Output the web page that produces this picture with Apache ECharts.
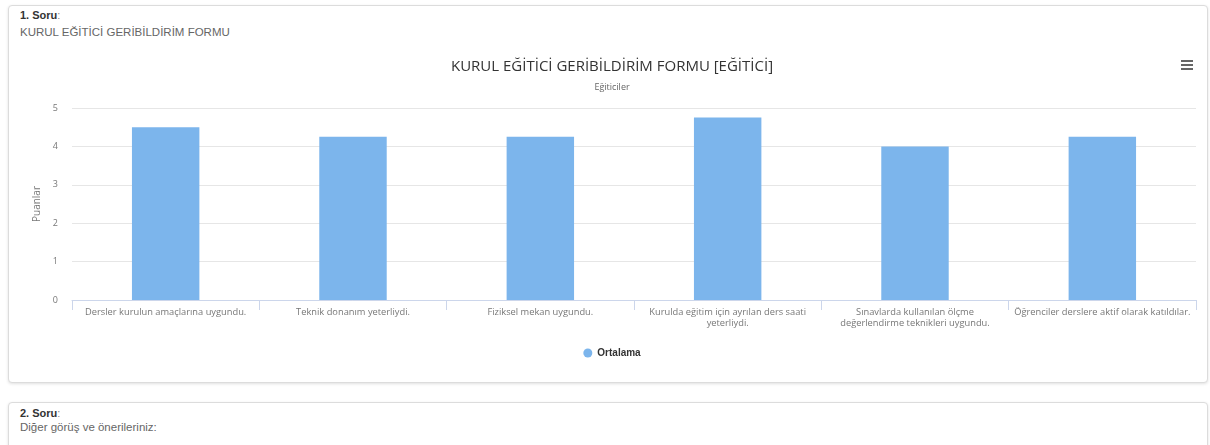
<!DOCTYPE html>
<html>
<head>
<meta charset="utf-8">
<script src="https://cdn.jsdelivr.net/npm/echarts@6/dist/echarts.min.js"></script>
<style>
  html, body { margin:0; padding:0; width:1210px; height:445px; overflow:hidden; background:#ffffff; font-family: "Liberation Sans", Arial, sans-serif; }
  .card { position:absolute; left:8px; width:1198px; border:1px solid #dcdcdc; border-radius:4px; box-shadow:0 1px 3px rgba(0,0,0,0.12); background:#fff; }
  .q { position:absolute; left:20px; font-size:11px; color:#333; }
  .q b { font-weight:bold; }
  .q span { color:#888; }
  .sub { position:absolute; left:20px; font-size:11.5px; color:#666; }
  #chart { position:absolute; left:7px; top:0; width:1210px; height:445px; }
  .menu { position:absolute; left:1181px; top:60px; width:12px; }
  .menu div { height:2px; background:#666; margin-bottom:2px; }
</style>
</head>
<body>
<div class="card" style="top:5px; height:376px;"></div>
<div class="card" style="top:402px; height:60px;"></div>
<div class="q" style="top:9px;"><b>1. Soru</b><span>:</span></div>
<div class="sub" style="top:26px;">KURUL EĞİTİCİ GERİBİLDİRİM FORMU</div>
<div class="q" style="top:407px;"><b>2. Soru</b><span>:</span></div>
<div class="sub" style="top:421px;">Diğer görüş ve önerileriniz:</div>
<div id="chart"></div>
<div class="menu"><div></div><div></div><div></div></div>
<script>
const titleText = "KURUL EĞİTİCİ GERİBİLDİRİM FORMU [EĞİTİCİ]";
const subtitleText = "Eğiticiler";
const categories = [
  "Dersler kurulun amaçlarına uygundu.",
  "Teknik donanım yeterliydi.",
  "Fiziksel mekan uygundu.",
  "Kurulda eğitim için ayrılan ders saati\nyeterliydi.",
  "Sınavlarda kullanılan ölçme\ndeğerlendirme teknikleri uygundu.",
  "Öğrenciler derslere aktif olarak katıldılar."
];
const seriesName = "Ortalama";
const values = [4.5, 4.25, 4.25, 4.75, 4.0, 4.25];
const yAxisName = "Puanlar";

const chart = echarts.init(document.getElementById('chart'), null, {renderer:'canvas'});
chart.setOption({
  backgroundColor: 'transparent',
  animation: false,
  title: {
    text: titleText,
    subtext: subtitleText,
    left: 'center',
    top: 54,
    itemGap: 9,
    textStyle: { fontFamily: 'Open Sans', fontSize: 15, fontWeight: 'normal', color: '#333' },
    subtextStyle: { fontFamily: 'Open Sans', fontSize: 9, color: '#666' }
  },
  legend: {
    data: [seriesName],
    top: 343,
    left: 'center',
    icon: 'circle',
    itemWidth: 9,
    itemHeight: 9,
    itemGap: 5,
    textStyle: { fontFamily: 'Liberation Sans', fontSize: 10, fontWeight: 'bold', color: '#333' }
  },
  grid: { left: 65, right: 21, top: 108, bottom: 145, containLabel: false },
  xAxis: {
    type: 'category',
    data: categories,
    boundaryGap: true,
    axisLine: { lineStyle: { color: '#ccd6eb' } },
    axisTick: { show: true, length: 10, lineStyle: { color: '#ccd6eb' } },
    axisLabel: {
      interval: 0,
      fontFamily: 'Open Sans',
      fontSize: 9.3,
      color: '#777',
      lineHeight: 11,
      margin: 7
    }
  },
  yAxis: {
    type: 'value',
    min: 0, max: 5, interval: 1,
    name: yAxisName,
    nameLocation: 'middle',
    nameGap: 29,
    nameTextStyle: { fontFamily: 'Open Sans', fontSize: 10, color: '#777' },
    axisLine: { show: false },
    axisTick: { show: false },
    axisLabel: { fontFamily: 'Open Sans', fontSize: 9, color: '#777', margin: 14 },
    splitLine: { lineStyle: { color: '#e6e6e6' } }
  },
  series: [{
    name: seriesName,
    type: 'bar',
    data: values,
    barWidth: '36%',
    itemStyle: { color: '#7cb5ec' }
  }]
});
</script>
</body>
</html>
